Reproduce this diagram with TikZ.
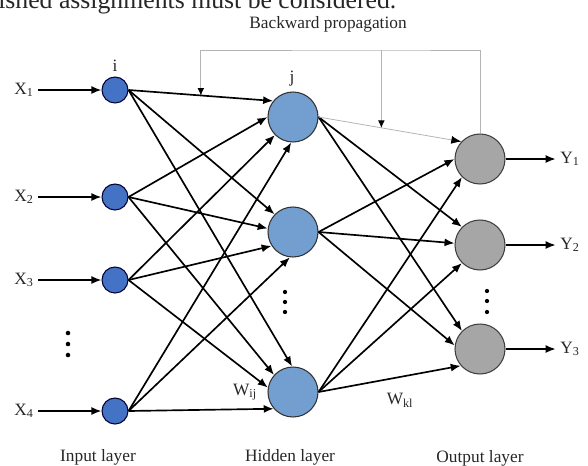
\documentclass[tikz,border=0pt]{standalone}
\usepackage{fontspec}
\setmainfont{Liberation Serif}
\usepackage{tikz}
\usetikzlibrary{arrows.meta,calc}
\definecolor{nn_blue}{RGB}{68,114,196}
\definecolor{nn_lightblue}{RGB}{114,159,207}
\definecolor{nn_gray}{RGB}{166,166,166}
\definecolor{nn_line}{RGB}{180,180,180}

\begin{document}
\begin{tikzpicture}[x=0.75pt, y=-0.75pt,
    every node/.style={font=\fontsize{13}{15}\selectfont, text=black!85},
    inputnode/.style={circle, draw=black!80!blue, line width=0.8pt, fill=nn_blue, minimum size=19.5pt, inner sep=0pt},
    hiddennode/.style={circle, draw=black!80, line width=0.8pt, fill=nn_lightblue, minimum size=37.5pt, inner sep=0pt},
    outputnode/.style={circle, draw=black!75, line width=0.8pt, fill=nn_gray, minimum size=37.5pt, inner sep=0pt},
    link/.style={line width=1.25pt, -{Latex[length=7.5pt,width=6pt,color=black]}},
    feedback/.style={draw=nn_line, line width=0.6pt, -{Latex[length=5.5pt,width=5pt,color=black]}}]

  \useasboundingbox (0,0) rectangle (588,465);

  % Cut-off line of text above the figure
  \node[anchor=base west, inner sep=0pt, font=\fontsize{19.3}{22}\selectfont] (topline) at (-2,8) {ished assignments must be considered.};

  % Input layer
  \foreach \n/\y in {1/90, 2/197, 3/280, 4/411} {
    \node[inputnode] (in\n) at (115,\y) {};
    \node (x\n) at (24,\y) {X\textsubscript{\n}};
    \draw[link] (x\n) -- (in\n);
  }
  \foreach \y in {333,344,355}
    \fill (68,\y) circle (1.7pt);

  % Hidden layer
  \foreach \n/\y in {1/117, 2/232, 3/392}
    \node[hiddennode] (h\n) at (293,\y) {};
  \foreach \y in {292,302,312}
    \fill (285,\y) circle (1.6pt);

  % Output layer
  \foreach \n/\y in {1/159, 2/245, 3/349} {
    \node[outputnode] (o\n) at (480,\y) {};
    \node (y\n) at (570,\y) {Y\textsubscript{\n}};
    \draw[link] (o\n) -- (y\n);
  }
  \foreach \y in {291,301,312}
    \fill (487,\y) circle (1.6pt);

  % Weights input -> hidden
  \foreach \i/\j/\a in {1/1/141, 2/1/180, 3/1/225, 4/1/266,
                        1/2/136, 2/2/172, 3/2/213, 4/2/263,
                        1/3/92, 2/3/138, 3/3/170, 4/3/221}
    \draw[link] (in\i.east) -- (h\j.\a);

  % Weights hidden -> output
  \foreach \j/\k/\a in {2/1/180, 3/1/225,
                        1/2/135, 2/2/176, 3/2/225,
                        1/3/135, 2/3/172, 3/3/221}
    \draw[link] (h\j.east) -- (o\k.\a);
  \draw[link, draw=nn_line, line width=0.6pt] (h1.east) -- (o1.137);

  % Backward propagation
  \coordinate (fb1) at ($(in1.east)!0.5!(h1.141)$);
  \coordinate (fb2) at ($(h1.east)!0.44!(o1.137)$);
  \coordinate (fbtop) at (fb2 |- 0,50);
  \draw[feedback] (o1.north) |- (fbtop) -| (fb1);
  \draw[feedback] (fbtop) -- (fb2);
  \node (backprop) at (328,24) {Backward propagation};

  % Labels
  \node (ilabel) at (115,66) {i};
  \node (jlabel) at (292,79) {j};
  \node (wij) at (245,392) {W\textsubscript{ij}};
  \node (wkl) at (400,400) {W\textsubscript{kl}};
  \node (inlayer) at (98,457) {Input layer};
  \node (hidlayer) at (290,457) {Hidden layer};
  \node (outlayer) at (480,458) {Output layer};

\end{tikzpicture}
\end{document}
